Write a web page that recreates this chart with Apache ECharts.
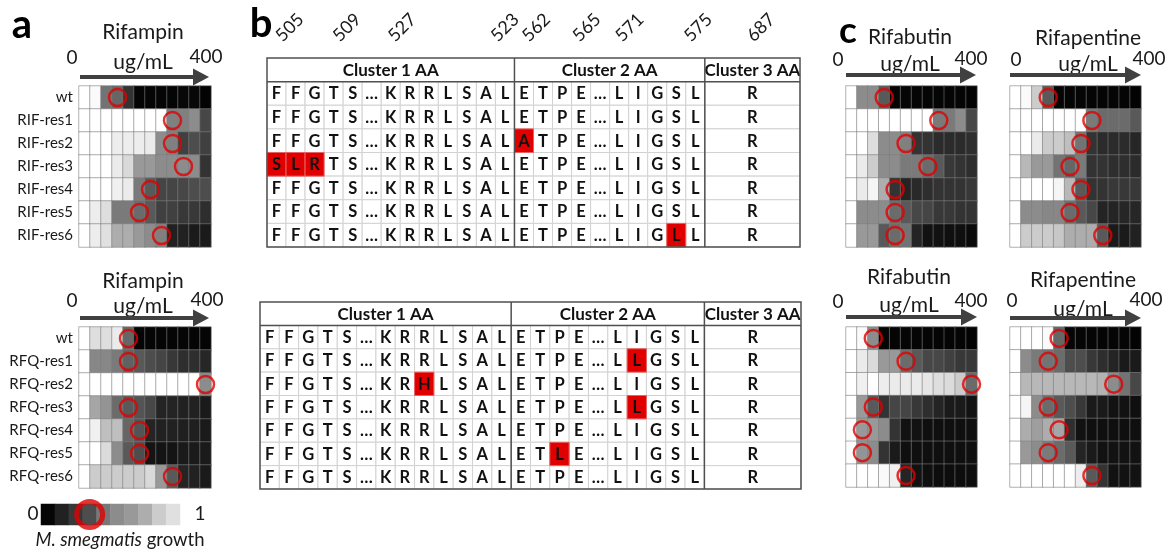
<!DOCTYPE html>
<html><head><meta charset="utf-8">
<script src="https://cdn.jsdelivr.net/npm/echarts@6/dist/echarts.min.js"></script>
<style>html,body{margin:0;padding:0;background:#fff}#chart{width:1165px;height:551px}</style>
</head><body><div id="chart"></div>
<script>
// ---------------- DATA ----------------
const doseSteps = ['1','2','3','4','5','6','7','8','9','10','11','12']; // 0 -> 400 ug/mL
const rifStrains = ['wt','RIF-res1','RIF-res2','RIF-res3','RIF-res4','RIF-res5','RIF-res6'];
const rfqStrains = ['wt','RFQ-res1','RFQ-res2','RFQ-res3','RFQ-res4','RFQ-res5','RFQ-res6'];

// growth (0 = none/black, 1 = full/white)
const rifampinRIF = [
  [1.00,0.98,0.45,0.40,0.20,0.02,0.02,0.02,0.02,0.03,0.03,0.01],
  [1.00,1.00,1.00,1.00,1.00,1.00,1.00,1.00,0.50,0.50,0.55,0.28],
  [1.00,1.00,1.00,0.93,0.93,0.93,0.92,0.55,0.50,0.25,0.30,0.25],
  [1.00,1.00,1.00,0.92,0.85,0.60,0.60,0.55,0.55,0.55,0.55,0.20],
  [1.00,1.00,1.00,0.94,0.92,0.48,0.35,0.27,0.27,0.28,0.30,0.30],
  [1.00,0.93,0.87,0.48,0.48,0.42,0.35,0.25,0.25,0.22,0.22,0.18],
  [1.00,0.93,0.88,0.68,0.68,0.60,0.55,0.50,0.13,0.13,0.10,0.10]
];
const rifampinRIFmic = [3,8,8,9,6,5,7];

const rifampinRFQ = [
  [1.00,0.87,0.87,0.92,0.40,0.02,0.02,0.02,0.02,0.02,0.02,0.02],
  [1.00,0.53,0.53,0.48,0.38,0.35,0.30,0.27,0.22,0.18,0.18,0.15],
  [1.00,1.00,1.00,1.00,1.00,1.00,1.00,1.00,1.00,1.00,1.00,0.55],
  [1.00,0.65,0.58,0.42,0.35,0.33,0.28,0.14,0.14,0.13,0.13,0.10],
  [1.00,0.94,0.75,0.75,0.40,0.33,0.14,0.13,0.13,0.12,0.12,0.10],
  [1.00,1.00,0.86,0.55,0.35,0.30,0.08,0.08,0.08,0.10,0.10,0.10],
  [1.00,0.80,0.80,0.80,0.80,0.80,0.85,0.60,0.35,0.14,0.13,0.10]
];
const rifampinRFQmic = [4,4,11,4,5,5,8];

const rifabutinRIF = [
  [1.00,0.55,0.55,0.35,0.02,0.02,0.02,0.02,0.02,0.02,0.02,0.01],
  [1.00,1.00,1.00,1.00,1.00,1.00,1.00,1.00,0.48,0.48,0.55,0.28],
  [1.00,1.00,0.87,0.55,0.55,0.50,0.20,0.20,0.17,0.17,0.17,0.18],
  [1.00,0.92,0.80,0.55,0.55,0.48,0.48,0.42,0.35,0.22,0.20,0.18],
  [1.00,0.92,0.96,0.68,0.20,0.14,0.16,0.18,0.20,0.20,0.20,0.22],
  [1.00,0.55,0.55,0.55,0.42,0.35,0.28,0.27,0.22,0.22,0.20,0.20],
  [1.00,0.60,0.60,0.35,0.42,0.45,0.14,0.07,0.07,0.06,0.06,0.04]
];
const rifabutinRIFmic = [3,8,5,7,4,4,4];

const rifapentineRIF = [
  [1.00,0.98,0.80,0.35,0.02,0.02,0.02,0.02,0.02,0.02,0.02,0.01],
  [1.00,1.00,1.00,1.00,1.00,1.00,1.00,0.48,0.42,0.42,0.42,0.35],
  [1.00,1.00,0.92,0.80,0.80,0.75,0.45,0.20,0.17,0.17,0.17,0.15],
  [1.00,0.72,0.60,0.60,0.45,0.40,0.48,0.20,0.20,0.18,0.18,0.17],
  [1.00,1.00,1.00,1.00,0.96,0.72,0.35,0.20,0.20,0.22,0.22,0.22],
  [1.00,0.55,0.55,0.53,0.53,0.42,0.35,0.28,0.14,0.14,0.15,0.15],
  [1.00,0.80,0.80,0.80,0.78,0.68,0.68,0.68,0.35,0.10,0.10,0.13]
];
const rifapentineRIFmic = [3,7,6,5,6,5,8];

const rifabutinRFQ = [
  [1.00,0.98,0.55,0.02,0.02,0.02,0.02,0.02,0.02,0.02,0.02,0.01],
  [1.00,0.92,0.86,0.60,0.60,0.42,0.35,0.28,0.28,0.25,0.22,0.22],
  [1.00,0.94,1.00,0.93,0.92,0.92,0.92,0.90,0.87,0.86,0.80,0.42],
  [1.00,0.60,0.35,0.20,0.27,0.27,0.22,0.18,0.14,0.10,0.10,0.07],
  [1.00,0.60,0.60,0.55,0.20,0.07,0.07,0.06,0.06,0.06,0.06,0.06],
  [1.00,0.58,0.55,0.20,0.10,0.06,0.06,0.06,0.06,0.06,0.06,0.06],
  [1.00,1.00,1.00,0.98,0.94,0.14,0.07,0.06,0.05,0.05,0.05,0.05]
];
const rifabutinRFQmic = [2,5,11,2,1,1,5];

const rifapentineRFQ = [
  [1.00,1.00,1.00,0.98,0.40,0.02,0.02,0.02,0.02,0.02,0.02,0.01],
  [1.00,0.55,0.48,0.45,0.42,0.30,0.30,0.22,0.18,0.14,0.10,0.10],
  [1.00,0.72,0.72,0.72,0.72,0.72,0.72,0.72,0.70,0.55,0.45,0.28],
  [1.00,0.96,0.55,0.42,0.35,0.30,0.22,0.10,0.10,0.07,0.07,0.06],
  [1.00,0.68,0.62,0.68,0.65,0.18,0.07,0.06,0.06,0.06,0.06,0.06],
  [1.00,0.60,0.55,0.48,0.42,0.35,0.14,0.10,0.07,0.07,0.07,0.07],
  [1.00,1.00,1.00,1.00,1.00,1.00,0.93,0.35,0.20,0.07,0.07,0.07]
];
const rifapentineRFQmic = [4,3,9,3,4,3,7];

const legendLevels = [0.02,0.13,0.22,0.30,0.47,0.55,0.60,0.68,0.80,0.88];
const legendMarked = 3;

// rpoB sequence table
const cluster1AA = ['F','F','G','T','S','…','K','R','R','L','S','A','L'];
const cluster2AA = ['E','T','P','E','…','L','I','G','S','L'];
const cluster3AA = ['R'];
const clusterNames = ['Cluster 1 AA','Cluster 2 AA','Cluster 3 AA'];
const rifMutations = [
  {row:2, cluster:2, pos:0, aa:'A'},
  {row:3, cluster:1, pos:0, aa:'S'},
  {row:3, cluster:1, pos:1, aa:'L'},
  {row:3, cluster:1, pos:2, aa:'R'},
  {row:6, cluster:2, pos:8, aa:'L'}
];
const rfqMutations = [
  {row:1, cluster:2, pos:6, aa:'L'},
  {row:2, cluster:1, pos:8, aa:'H'},
  {row:3, cluster:2, pos:6, aa:'L'},
  {row:5, cluster:2, pos:2, aa:'L'}
];
const residueLabels = ['505','509','527','523','562','565','571','575','687'];
const residueLabelAt = [0.95, 3.95, 6.85, 12.25, 13.9, 16.55, 18.8, 22.4, 25.7];

// ---------------- BUILD ----------------
const FONT = 'Lato';
const RED = '#e00000';
const panels = [
  {grid:{left:79, top:86, width:132, height:161}, rows:rifStrains, values:rifampinRIF, mic:rifampinRIFmic, labels:true},
  {grid:{left:79, top:327, width:132, height:161}, rows:rfqStrains, values:rifampinRFQ, mic:rifampinRFQmic, labels:true},
  {grid:{left:846, top:86, width:131, height:161}, rows:rifStrains, values:rifabutinRIF, mic:rifabutinRIFmic, labels:false},
  {grid:{left:1010, top:86, width:131, height:161}, rows:rifStrains, values:rifapentineRIF, mic:rifapentineRIFmic, labels:false},
  {grid:{left:846, top:327, width:131, height:160}, rows:rfqStrains, values:rifabutinRFQ, mic:rifabutinRFQmic, labels:false},
  {grid:{left:1010, top:327, width:131, height:160}, rows:rfqStrains, values:rifapentineRFQ, mic:rifapentineRFQmic, labels:false}
];

const grids = [], xAxes = [], yAxes = [], series = [], heatIdx = [];
panels.forEach((p, i) => {
  grids.push(p.grid);
  xAxes.push({type:'category', gridIndex:i, data:doseSteps, show:false});
  xAxes.push({type:'value', gridIndex:i, min:0, max:doseSteps.length, show:false});
  yAxes.push({type:'category', gridIndex:i, data:p.rows, inverse:true,
    axisLine:{show:false}, axisTick:{show:false}, splitLine:{show:false},
    axisLabel:{show:p.labels, fontSize:15, color:'#1a1a1a', fontFamily:FONT, margin:6}});
  const data = [];
  p.values.forEach((row, r) => row.forEach((v, c) => data.push([c, r, v])));
  heatIdx.push(series.length);
  series.push({type:'heatmap', xAxisIndex:2*i, yAxisIndex:i, data,
    itemStyle:{borderColor:'rgba(125,125,125,0.6)', borderWidth:1}, emphasis:{disabled:true}});
  series.push({type:'scatter', xAxisIndex:2*i+1, yAxisIndex:i, z:5, symbol:'circle', symbolSize:17,
    data:p.mic.map((c, r) => [c + 0.5, r]),
    itemStyle:{color:'rgba(0,0,0,0)', borderColor:RED, borderWidth:2.5}, emphasis:{disabled:true}});
});

// legend bar
const lg = grids.length;
grids.push({left:41, top:504, width:139, height:21});
xAxes.push({type:'category', gridIndex:lg, data:legendLevels.map((v,i)=>String(i)), show:false});
xAxes.push({type:'value', gridIndex:lg, min:0, max:legendLevels.length, show:false});
yAxes.push({type:'category', gridIndex:lg, data:['growth'], show:false});
heatIdx.push(series.length);
series.push({type:'heatmap', xAxisIndex:2*lg, yAxisIndex:lg, data:legendLevels.map((v,i)=>[i,0,v]),
  itemStyle:{borderWidth:0}, emphasis:{disabled:true}});
series.push({type:'scatter', xAxisIndex:2*lg+1, yAxisIndex:lg, z:5, symbolSize:26, data:[[legendMarked+0.5,0]],
  itemStyle:{color:'rgba(0,0,0,0)', borderColor:RED, borderWidth:5}, emphasis:{disabled:true}});

// tables
function buildTable(mutations) {
  const items = [];
  const bounds = [[0,13],[13,23],[23,28]];
  clusterNames.forEach((n, k) => items.push({kind:'header', x0:bounds[k][0], x1:bounds[k][1], row:0, text:n}));
  const clusters = [cluster1AA, cluster2AA, cluster3AA];
  const muts = [];
  for (let r = 0; r < 7; r++) {
    clusters.forEach((aas, k) => {
      const w = k === 2 ? 5 : 1;
      aas.forEach((aa, i) => {
        const m = mutations.find(mm => mm.row === r && mm.cluster === k + 1 && mm.pos === i);
        const it = {kind:'cell', x0:bounds[k][0] + i*w, x1:bounds[k][0] + (i+1)*w, row:r+1, text:m ? m.aa : aa, mut:!!m};
        (m ? muts : items).push(it);
      });
    });
  }
  muts.forEach(m => items.push(m));
  items.push({kind:'frame', x0:0, x1:28, row:0});
  return items;
}
function tableSeries(items, gi) {
  return {type:'custom', coordinateSystem:'cartesian2d', xAxisIndex:2*gi, yAxisIndex:gi, clip:false, silent:true,
    data: items.map(it => [it.x0, it.x1, it.row]),
    renderItem: function (params, api) {
      const it = items[params.dataIndex];
      if (it.kind === 'frame') {
        const tl = api.coord([0,0]), br = api.coord([28,8]), h = api.coord([0,1]);
        const s1 = api.coord([13,0]), s2 = api.coord([23,0]);
        const st = {stroke:'#505050', lineWidth:1.5, fill:null};
        return {type:'group', children:[
          {type:'rect', shape:{x:tl[0], y:tl[1], width:br[0]-tl[0], height:br[1]-tl[1]}, style:st},
          {type:'line', shape:{x1:tl[0], y1:h[1], x2:br[0], y2:h[1]}, style:st},
          {type:'line', shape:{x1:s1[0], y1:tl[1], x2:s1[0], y2:br[1]}, style:st},
          {type:'line', shape:{x1:s2[0], y1:tl[1], x2:s2[0], y2:br[1]}, style:st}
        ]};
      }
      const a = api.coord([it.x0, it.row]), b = api.coord([it.x1, it.row + 1]);
      const isHead = it.kind === 'header';
      const rect = {type:'rect', shape:{x:a[0], y:a[1], width:b[0]-a[0], height:b[1]-a[1]},
        style:{fill: it.mut ? RED : '#ffffff', stroke: isHead ? null : (it.mut ? '#e86060' : '#d2d2d2'), lineWidth:1}};
      const text = {type:'text', x:(a[0]+b[0])/2, y:(a[1]+b[1])/2 + 0.5,
        style:{text:it.text, fontSize:isHead ? 17 : 16.5, fontWeight:'bold', fontFamily:FONT, fill:'#111', align:'center', verticalAlign:'middle'}};
      return {type:'group', children:[rect, text]};
    }
  };
}
const tableDefs = [
  {grid:{left:267, top:58, width:533, height:189}, items:buildTable(rifMutations), residues:true},
  {grid:{left:260, top:302, width:541, height:187}, items:buildTable(rfqMutations), residues:false}
];
let residueGrid = -1;
tableDefs.forEach(t => {
  const gi = grids.length;
  grids.push(t.grid);
  xAxes.push({type:'value', gridIndex:gi, min:0, max:28, show:false});
  xAxes.push({type:'value', gridIndex:gi, min:0, max:28, show:false});
  yAxes.push({type:'value', gridIndex:gi, min:0, max:8, inverse:true, show:false});
  series.push(tableSeries(t.items, gi));
  if (t.residues) residueGrid = gi;
});

// ---------------- DECORATION ----------------
function txt(x, y, t, size, extra) {
  return {type:'text', x, y, silent:true,
    style:Object.assign({text:t, fontSize:size, fontFamily:FONT, fill:'#1a1a1a', align:'center', verticalAlign:'middle'}, extra || {})};
}
function arrow(x0, tip, y) {
  return {type:'group', silent:true, children:[
    {type:'rect', shape:{x:x0, y:y-2, width:tip-x0-14, height:4}, style:{fill:'#404040'}},
    {type:'polygon', shape:{points:[[tip-16, y-8.5],[tip, y],[tip-16, y+8.5]]}, style:{fill:'#404040'}}
  ]};
}
function header(drug, cx, yTitle, x0txt, x400, yNums, yUnit, xArrow0, xTip, yArrow) {
  return [
    txt(cx, yTitle, drug, 21),
    txt(x0txt, yNums, '0', 19),
    txt(x400, yNums - 1, '400', 19),
    txt(cx, yUnit, 'ug/mL', 21),
    arrow(xArrow0, xTip, yArrow)
  ];
}
const graphics = [].concat(
  header('Rifampin', 143, 32, 72, 206, 58, 62, 80, 209, 77),
  header('Rifampin', 143, 281, 72, 207, 301, 306, 80, 209, 318),
  header('Rifabutin', 910, 37, 838, 971, 60, 64, 846, 976, 75),
  header('Rifapentine', 1088, 38, 1016, 1149, 60, 64, 1010, 1141, 75),
  header('Rifabutin', 909, 277, 838, 971, 302, 305, 846, 977, 317),
  header('Rifapentine', 1083, 280, 1012, 1146, 301, 309, 1010, 1141, 318),
  [
    txt(22, 25, 'a', 40, {fontWeight:'bold', fill:'#000'}),
    txt(261, 24, 'b', 40, {fontWeight:'bold', fill:'#000'}),
    txt(848, 31, 'c', 37, {fontWeight:'bold', fill:'#000'}),
    txt(33, 514, '0', 19),
    txt(200, 514, '1', 19),
    {type:'text', x:120, y:540, silent:true, style:{text:'{i|M. smegmatis} growth', fontSize:18.5, fontFamily:FONT, fill:'#1a1a1a',
      align:'center', verticalAlign:'middle', rich:{i:{fontStyle:'italic', fontSize:18.5, fontFamily:FONT, fill:'#1a1a1a'}}}}
  ]
);

const option = {
  animation:false,
  backgroundColor:'#ffffff',
  textStyle:{fontFamily:FONT},
  grid:grids, xAxis:xAxes, yAxis:yAxes,
  visualMap:{type:'continuous', show:false, min:0, max:1, dimension:2, seriesIndex:heatIdx,
    inRange:{color:['#000000','#ffffff']}},
  series
};
const chart = echarts.init(document.getElementById('chart'), null, {renderer:'canvas'});
chart.setOption(option);
// residue numbers above the top table, placed through the table's own axes
const residueTexts = residueLabels.map((lab, i) => {
  const p = chart.convertToPixel({gridIndex:residueGrid}, [residueLabelAt[i], -0.55]);
  return {type:'text', x:p[0], y:p[1], rotation:Math.PI/4, silent:true,
    style:{text:lab, fontSize:18, fontFamily:FONT, fill:'#1a1a1a', align:'left', verticalAlign:'bottom'}};
});
chart.setOption({graphic:graphics.concat(residueTexts)});
</script></body></html>
